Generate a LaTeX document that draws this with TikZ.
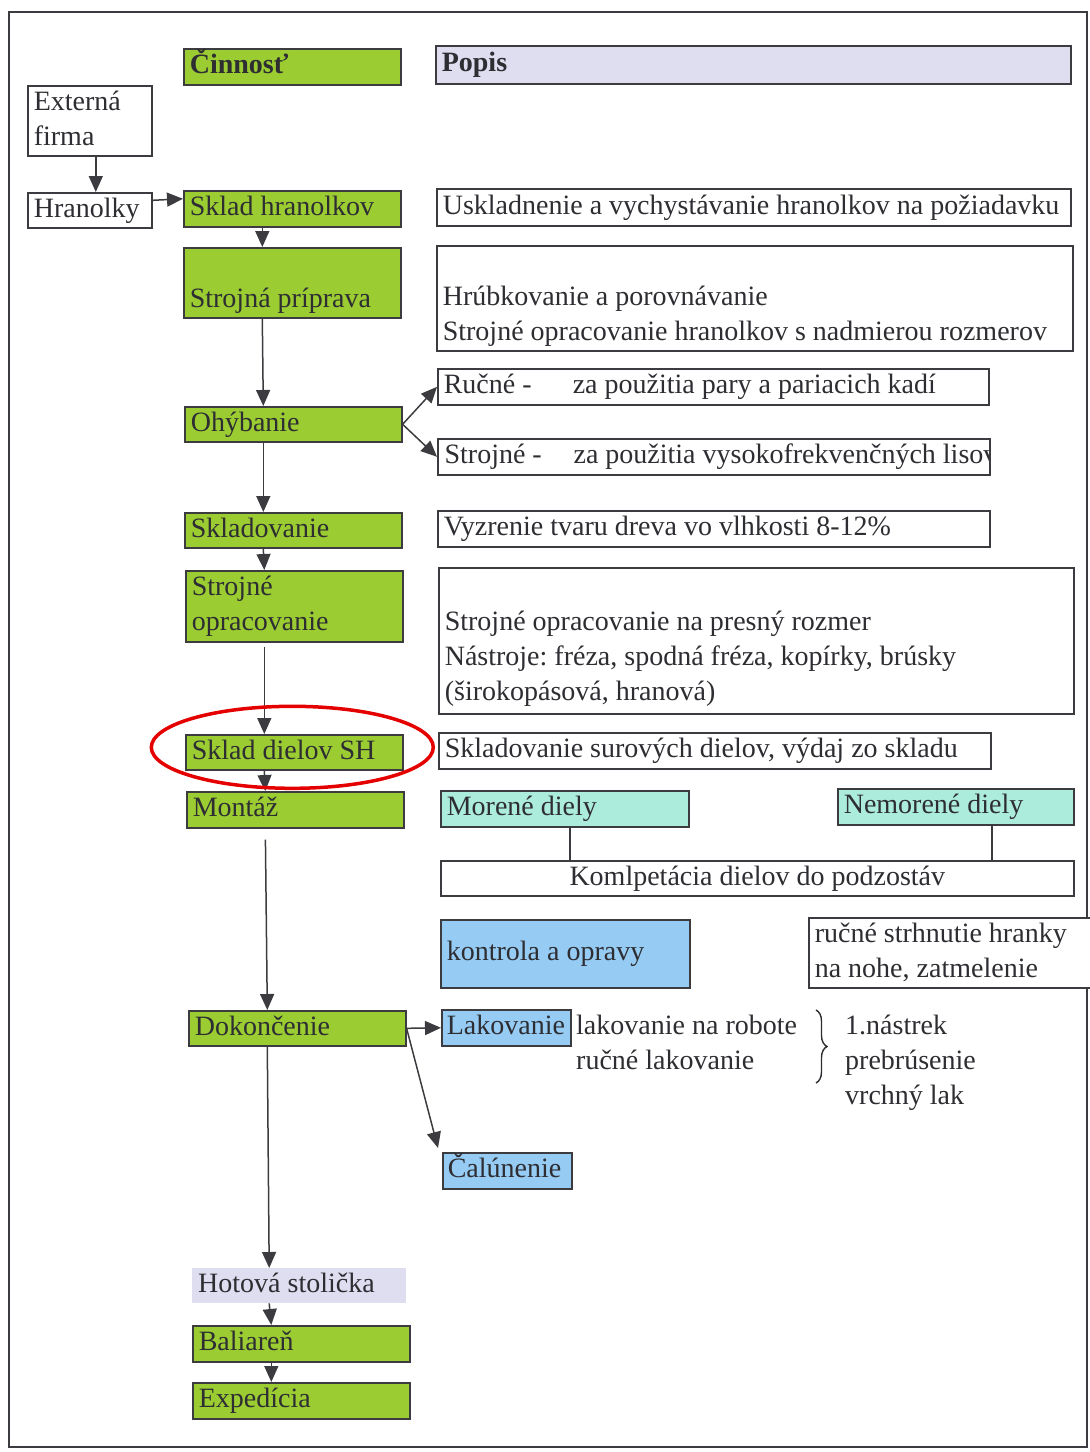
\documentclass[tikz,border=0pt]{standalone}
\usepackage{fontspec}
\setmainfont{Liberation Serif}
\usetikzlibrary{arrows.meta,decorations.pathreplacing}
\definecolor{leaf}{RGB}{155,205,50}
\definecolor{lilac}{RGB}{222,222,240}
\definecolor{mint}{RGB}{172,236,220}
\definecolor{sky}{RGB}{150,204,244}
\definecolor{ink}{RGB}{45,45,50}
\definecolor{rim}{RGB}{60,60,64}

\begin{document}
\frenchspacing
\begin{tikzpicture}[
    x=1pt, y=-1pt,
    every node/.style={font=\fontsize{28}{35}\selectfont, text=ink},
    base/.style={anchor=north west, inner xsep=6pt, inner ysep=0pt, align=flush left,
        execute at begin node=\strut, execute at end node=\strut},
    frm/.style={base, draw=rim, line width=1.6pt},% boxes with border
    act/.style={frm, fill=leaf, text width=205pt, minimum height=36pt},
    desc/.style={frm, fill=white},
    arr/.style={draw=rim, line width=1.5pt, -{Triangle[length=16pt, width=14pt]}},
    wire/.style={draw=rim, line width=1.5pt},
    ring/.style={draw=red!90!black, line width=3.5pt},
    ]
    \useasboundingbox (0,0) rectangle (1090,1452);
    \draw[rim, line width=2.5pt] (9,12) rectangle (1087,1447);

    % column Cinnost
    \node[act] (cin) at (183,48) {\bfseries Činnosť};
    \node[frm, text width=112pt] (ext) at (27,85) {Externá\\firma};
    \node[frm, text width=112pt, minimum height=35pt] (hra) at (27,192) {Hranolky};
    \node[act] (skh) at (183,190) {Sklad hranolkov};
    \node[act, minimum height=66pt] (sp) at (183,247) {\mbox{}\\Strojná príprava};
    \node[act, minimum height=35pt] (ohy) at (184,406) {Ohýbanie};
    \node[act, minimum height=35pt] (skl) at (184,512) {Skladovanie};
    \node[act, minimum height=71pt] (so) at (185,570) {Strojné\\opracovanie};
    \node[act, minimum height=35pt] (sd) at (185,734) {Sklad dielov SH};
    \node[act] (mon) at (186,791) {Montáž};
    \node[act, minimum height=35pt] (dok) at (188,1010) {Dokončenie};
    \node[base, fill=lilac, text width=202pt, minimum height=35pt] (hot) at (192,1268) {Hotová stolička};
    \node[act] (bal) at (192,1325) {Baliareň};
    \node[act] (exp) at (192,1382) {Expedícia};

    % column Popis
    \node[frm, fill=lilac, text width=623pt, minimum height=38pt] (pop) at (435,45) {\bfseries Popis};
    \node[desc, text width=622pt, minimum height=37pt] (usk) at (436,188)
        {\mbox{Uskladnenie a vychystávanie hranolkov na požiadavku}};
    \node[desc, text width=624pt, minimum height=102pt] (hrb) at (436,245)
        {\mbox{}\\Hrúbkovanie a porovnávanie\\\mbox{Strojné opracovanie hranolkov s nadmierou rozmerov}};
    \node[desc, text width=539pt, minimum height=36pt] (ruc) at (437,368)
        {\makebox[129pt][l]{Ručné -}za použitia pary a pariacich kadí};
    \node[desc, text width=540pt, minimum height=36pt,
        path picture={\node[base, anchor=west, inner xsep=0pt, text width=700pt]
            at ([xshift=6pt]path picture bounding box.west)
            {\makebox[129pt][l]{Strojné -}za použitia vysokofrekvenčných lisov};}]
        (str) at (437,438) {};
    \node[desc, text width=540pt, minimum height=36pt] (vyz) at (437,510)
        {Vyzrenie tvaru dreva vo vlhkosti 8-12\%};
    \node[desc, text width=623pt, minimum height=146pt] (sod) at (438,567)
        {\mbox{}\\Strojné opracovanie na presný rozmer\\\mbox{Nástroje: fréza, spodná fréza, kopírky, brúsky}\\(širokopásová, hranová)};
    \node[desc, text width=540pt, minimum height=36pt] (sds) at (438,732)
        {\mbox{Skladovanie surových dielov, výdaj zo skladu}};
    \node[frm, fill=mint, text width=236pt, minimum height=36pt] (mor) at (440,790) {Morené diely};
    \node[frm, fill=mint, text width=224pt, minimum height=36pt] (nem) at (837,788) {Nemorené diely};
    \node[desc, align=flush center, text width=621pt, minimum height=33pt] (kom) at (440,860)
        {Komlpetácia dielov do podzostáv};
    \node[frm, fill=sky, text width=237pt, minimum height=68pt] (kon) at (440,919) {kontrola a opravy};
    \node[desc, text width=310pt, minimum height=68pt] (rsh) at (808,917)
        {ručné strhnutie hranky\\na nohe, zatmelenie};
    \node[frm, fill=sky, inner xsep=5pt, text width=119pt, minimum height=36pt] (lak) at (441,1009) {Lakovanie};
    \node[base, inner xsep=0pt, text width=230pt] (lkt) at (576,1010) {lakovanie na robote\\ručné lakovanie};
    \node[base, inner xsep=0pt, text width=200pt] (vrc) at (845,1010) {1.nástrek\\prebrúsenie\\vrchný lak};
    \node[frm, fill=sky, inner xsep=5pt, text width=119pt, minimum height=36pt] (cal) at (442,1152) {Čalúnenie};

    % connectors
    \draw[arr] ([xshift=6pt]ext.south) -- ([xshift=6pt]hra.north);
    \draw[arr] ([yshift=10pt]hra.east) -- ([yshift=10pt]skh.west);
    \foreach \a/\b/\g in {skh/sp/0, sp/ohy/0, ohy/skl/0, skl/so/0, so/sd/4,
        sd/mon/0, mon/dok/11, dok/hot/0, hot/bal/0, bal/exp/0}
        \draw[arr, shorten <=\g pt] ([xshift=-30pt]\a.south) -- ([xshift=-30pt]\b.north);
    \draw[arr] (ohy.east) -- (ruc.west);
    \draw[arr] (ohy.east) -- (str.west);
    \draw[arr] (dok.east) -- (lak.west);
    \draw[arr] (dok.east) -- ([shift={(-4,-4)}]cal.north west);

    \coordinate (m1) at ([xshift=5pt]mor.south);
    \coordinate (m2) at ([xshift=36pt]nem.south);
    \draw[wire] (m1) -- (m1 |- kom.north);
    \draw[wire] (m2) -- (m2 |- kom.north);

    % brace between the two lists
    \coordinate (br1) at (816,1010);
    \coordinate (br2) at (816,1083);
    \draw[ink, line width=1.4pt, decorate, decoration={brace, amplitude=11pt}] (br1) -- (br2);

    % red marking
    \draw[ring] ([shift={(-2,-5)}]sd.center) ellipse [x radius=141pt, y radius=41pt];
\end{tikzpicture}
\end{document}
